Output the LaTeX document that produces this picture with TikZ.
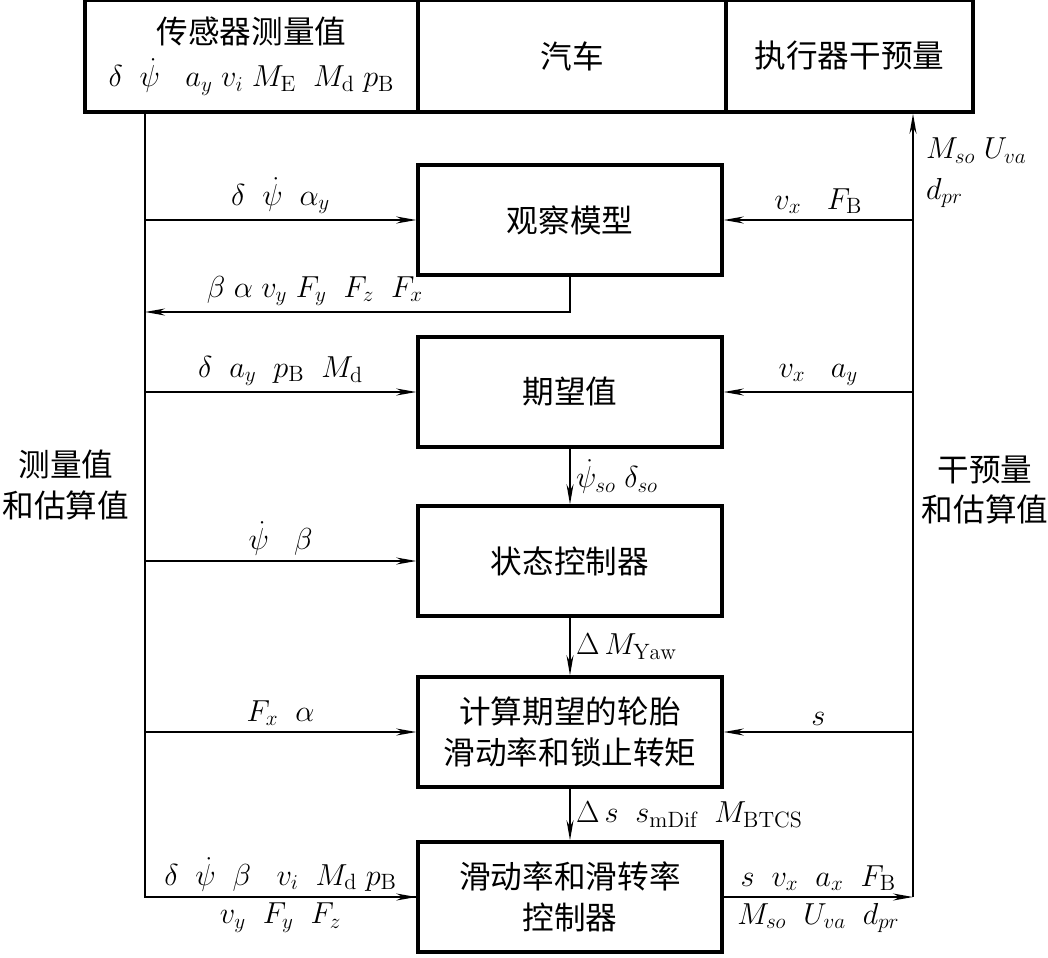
\documentclass[tikz,border=0pt]{standalone}
\usepackage{fontspec}
\newfontfamily\cjk{Noto Sans CJK SC}
\usetikzlibrary{arrows.meta,positioning}

\tikzset{
  block/.style={draw, line width=2pt, minimum width=6.08cm, minimum height=2.2cm, align=center},
  topbox/.style={draw, line width=2pt, minimum height=2.24cm, align=center},
  arr/.style={line width=0.9pt, -{Stealth[length=4mm,width=1.4mm]}},
  line/.style={line width=0.9pt},
  lab/.style={inner sep=3pt}
}

\begin{document}
\begin{tikzpicture}[x=0.02cm, y=-0.02cm, font=\fontsize{18}{23}\selectfont\cjk]
    \useasboundingbox (0,0) rectangle (1048,957);

    % top row
    \node[topbox, minimum width=6.66cm] (sensor) at (251.5,56)
        {传感器测量值\\[2pt] $\delta\;\;\dot\psi\;\;\;a_y\;v_i\;M_{\mathrm{E}}\;\;M_{\mathrm{d}}\;p_{\mathrm{B}}$};
    \node[topbox, minimum width=6.16cm] (car) at (572,56) {汽车};
    \node[topbox, minimum width=4.94cm] (actuator) at (849.5,56) {执行器干预量};

    % centre column
    \node[block] (observer)  at (570,220) {观察模型};
    \node[block] (desired)   at (570,392) {期望值};
    \node[block] (statectrl) at (570,561) {状态控制器};
    \node[block] (slipcalc)  at (570,732) {计算期望的轮胎\\滑动率和锁止转矩};
    \node[block] (slipctrl)  at (570,897) {滑动率和滑转率\\控制器};

    % bus lines
    \coordinate (ltop) at (145,112);
    \coordinate (lbot) at (145,897);
    \coordinate (rbot) at (913,897);
    \coordinate (fb)   at (145,312);
    \draw[line] (ltop) -- (lbot) -- (slipctrl.west);
    \draw[arr] (rbot) -- (actuator.south -| rbot);

    % side texts
    \node[align=center] (meas) at (66,485) {测量值\\和估算值};
    \node[align=center] (intv) at (985,490) {干预量\\和估算值};

    % observer
    \draw[arr] (ltop |- observer.west) -- (observer.west)
        node[midway, above, lab] {$\delta\;\;\dot\psi\;\;\alpha_y$};
    \draw[arr] (rbot |- observer.east) -- (observer.east)
        node[midway, above, lab] {$v_x\;\;\;F_{\mathrm{B}}$};
    \draw[arr] (observer.south) -- (observer.south |- fb) -- (fb)
        node[pos=0.6, above, lab] {$\beta\;\alpha\;v_y\;F_y\;\;F_z\;\;F_x$};

    % desired values
    \draw[arr] (ltop |- desired.west) -- (desired.west)
        node[midway, above, lab] {$\delta\;\;a_y\;\;p_{\mathrm{B}}\;\;M_{\mathrm{d}}$};
    \draw[arr] (rbot |- desired.east) -- (desired.east)
        node[midway, above, lab] {$v_x\;\;\;a_y$};
    \draw[arr] (desired.south) -- (statectrl.north)
        node[midway, right, lab] {$\dot\psi_{so}\;\delta_{so}$};

    % state controller
    \draw[arr] (ltop |- statectrl.west) -- (statectrl.west)
        node[midway, above, lab] {$\dot\psi\;\;\;\beta$};
    \draw[arr] (statectrl.south) -- (slipcalc.north)
        node[midway, right, lab] {$\Delta\,M_{\mathrm{Yaw}}$};

    % slip calculation
    \draw[arr] (ltop |- slipcalc.west) -- (slipcalc.west)
        node[midway, above, lab] {$F_x\;\;\alpha$};
    \draw[arr] (rbot |- slipcalc.east) -- (slipcalc.east)
        node[midway, above, lab] {$s$};
    \draw[arr] (slipcalc.south) -- (slipctrl.north)
        node[midway, right, lab] {$\Delta\,s\;\;s_{\mathrm{mDif}}\;\;M_{\mathrm{BTCS}}$};

    % slip controller
    \draw[arr] (lbot) -- (slipctrl.west)
        node[midway, above, lab] {$\delta\;\;\dot\psi\;\;\beta\;\;\;v_i\;\;M_{\mathrm{d}}\;p_{\mathrm{B}}$}
        node[midway, below, lab] {$v_y\;\;F_y\;\;F_z$};
    \draw[arr] (slipctrl.east) -- (rbot)
        node[midway, above, lab] {$s\;\;v_x\;\;a_x\;\;F_{\mathrm{B}}$}
        node[midway, below, lab] {$M_{so}\;\;U_{va}\;\;d_{pr}$};

    % actuator input label
    \node[align=left, anchor=north west] (actlab) at (920,132)
        {$M_{so}\;U_{va}$\\$d_{pr}$};
\end{tikzpicture}
\end{document}
